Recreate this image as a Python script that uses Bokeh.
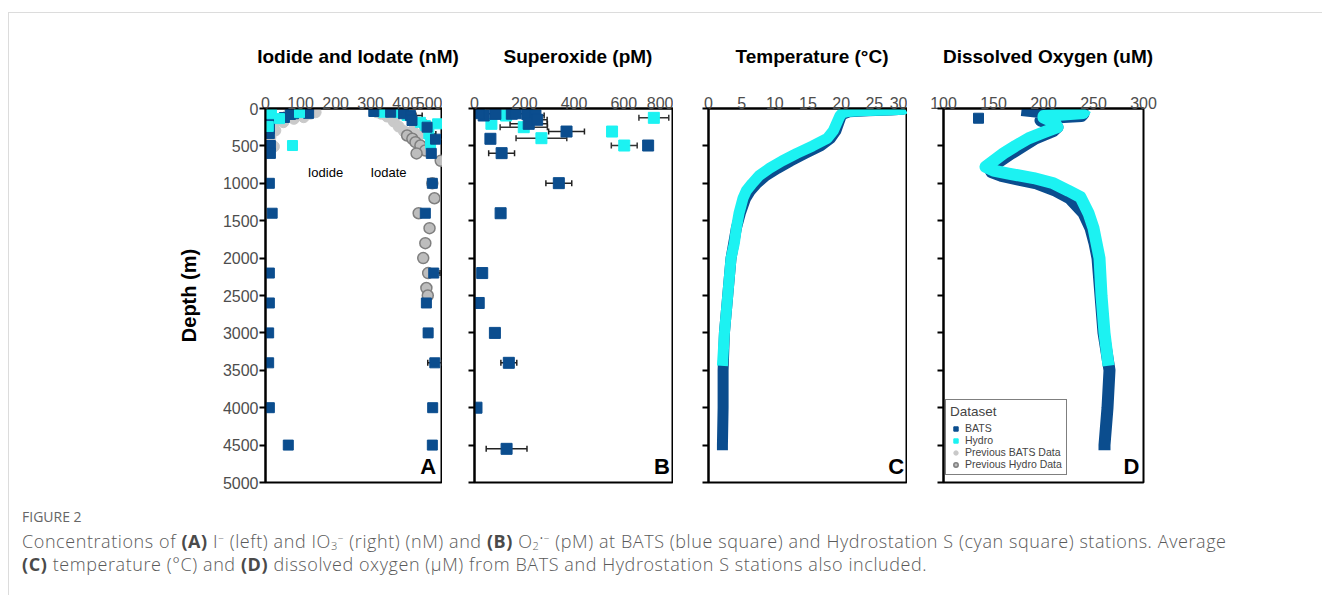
from bokeh.plotting import figure
from bokeh.models import (ColumnDataSource, Whisker, TeeHead, FixedTicker, Label,
                          Legend, LegendItem, Div, Range1d)
from bokeh.layouts import row, column
from bokeh.embed import file_html
from bokeh.resources import INLINE

BATS_C = "#0b4d8e"
HYDRO_C = "#1cf2f2"
PREV_B_FILL = "#c9c9c9"
PREV_H_FILL = "#bdbdbd"
PREV_H_LINE = "#7f7f7f"
FONT = "Liberation Sans"

panel_titles = ["Iodide and Iodate (nM)", "Superoxide (pM)", "Temperature (\u00b0C)", "Dissolved Oxygen (uM)"]

# ---------------- Panel A: iodide / iodate (nM) ----------------
iodide_bats_x = [80, 71, 54, 123, 11, 11, 11, 14, 14, 11, 19, 11, 11, 9, 9, 11, 65]
iodide_bats_depth = [70, 80, 120, 65, 200, 270, 335, 495, 600, 1000, 1400, 2200, 2600, 3000, 3400, 4000, 4500]
iodide_hydro_x = [17, 40, 97, 8, 77]
iodide_hydro_depth = [70, 135, 55, 240, 495]

iodate_bats_x = [309, 357, 394, 414, 418, 461, 485, 473, 476, 456, 480, 459, 464, 483, 477, 476]
iodate_bats_depth = [40, 50, 70, 95, 160, 250, 410, 600, 1000, 1400, 2200, 2600, 3000, 3400, 4000, 4500]
iodate_bats_err = [5, 15, 30, 33, 10, 15, 25, 8, 10, 5, 18, 3, 12, 20, 10, 8]
iodate_hydro_x = [337, 380, 404, 442, 456, 491, 466, 471]
iodate_hydro_depth = [50, 55, 94, 185, 227, 205, 340, 473]
iodate_hydro_err = [15, 20, 25, 15, 15, 0, 20, 10]

prev_bats_x = [24, 28, 14, 24, 43, 62, 90, 143, 128, 109, 81, 51,
               318, 330, 347, 360, 366, 380, 395, 420, 440]
prev_bats_depth = [200, 294, 384, 508, 138, 94, 94, 50, 70, 116, 138, 183,
                   50, 70, 107, 130, 174, 241, 303, 300, 350]
prev_hydro_x = [404, 419, 428, 442, 456, 431, 500, 476, 482, 437, 468, 456, 450, 464, 459, 463]
prev_hydro_depth = [361, 405, 450, 495, 561, 600, 700, 1000, 1200, 1400, 1600, 1800, 2000, 2200, 2400, 2500]

# ---------------- Panel B: superoxide (pM) ----------------
sox_bats_x = [37, 17, 84, 150, 165, 212, 245, 218, 252, 370, 698, 64, 109, 339, 105, 31, 17, 82, 138, 8, 129]
sox_bats_depth = [94, 63, 72, 70, 63, 72, 94, 205, 151, 308, 495, 405, 597, 998, 1400, 2200, 2600, 3000, 3400, 4000, 4550]
sox_bats_err = [0, 0, 10, 100, 0, 0, 35, 75, 40, 72, 15, 8, 52, 52, 10, 8, 8, 8, 32, 3, 82]
sox_hydro_x = [721, 553, 602, 269, 68, 127, 20, 198]
sox_hydro_depth = [125, 308, 495, 397, 205, 94, 50, 250]
sox_hydro_err = [60, 5, 52, 102, 16, 20, 0, 95]

# ---------------- Panel C: temperature (deg C) ----------------
temp_hydro_depth = [0, 10, 20, 30, 40, 60, 100, 200, 300, 400, 500, 600, 700, 800, 900, 1000,
                    1100, 1200, 1400, 1600, 1800, 2000, 2500, 3000, 3440]
temp_hydro = [29.6, 29.4, 27.0, 23.0, 21.0, 20.2, 19.8, 19.3, 18.8, 17.9, 15.7, 13.3, 11.1, 9.2, 7.6, 6.6,
              5.7, 5.2, 4.6, 4.2, 3.9, 3.4, 2.9, 2.4, 2.1]
temp_bats_depth = [0, 10, 20, 30, 45, 70, 100, 200, 300, 400, 500, 600, 700, 800, 900, 1000,
                   1100, 1200, 1400, 1600, 1800, 2000, 2500, 3000, 3500, 4000, 4500, 4570]
temp_bats = [29.5, 29.2, 27.5, 24.0, 21.2, 20.4, 20.0, 19.6, 19.2, 18.4, 16.9, 14.6, 12.4, 10.4, 8.6, 7.3,
             6.3, 5.6, 4.8, 4.2, 3.8, 3.4, 2.9, 2.4, 2.2, 2.2, 2.1, 2.1]

# ---------------- Panel D: dissolved oxygen (uM) ----------------
oxy_hydro_depth = [10, 60, 100, 120, 150, 200, 250, 320, 400, 500, 600, 700, 780, 830, 870, 930, 1000,
                   1100, 1185, 1400, 1600, 1800, 2000, 2500, 3000, 3440]
oxy_hydro = [242, 240, 200, 200, 205, 212, 214, 200, 185, 172, 160, 150, 142, 150, 165, 190, 210,
             225, 237, 245, 250, 253, 256, 258, 261, 265]
oxy_bats_depth = [20, 40, 70, 100, 130, 160, 200, 250, 300, 400, 500, 600, 700, 800, 850, 900, 950, 1000,
                  1100, 1200, 1400, 1600, 1800, 2000, 2500, 3000, 3500, 4000, 4500, 4570]
oxy_bats = [178, 192, 240, 238, 198, 197, 206, 214, 210, 192, 180, 168, 157, 146, 148, 158, 175, 193,
            212, 226, 240, 247, 251, 254, 257, 260, 266, 264, 261, 261]
oxy_bats_pts_x = [135]
oxy_bats_pts_depth = [130]

depth_ticks = list(range(0, 5001, 500))

TITLE_ROW_H = 50


def make_fig(x0, x1, xticks, frame_w, min_left, min_right, show_ylabels):
    p = figure(frame_width=frame_w, frame_height=374,
               x_range=Range1d(x0, x1), y_range=Range1d(5000, 0),
               x_axis_location="above", output_backend="svg", toolbar_location=None,
               title_location=None,
               min_border_left=min_left, min_border_right=min_right,
               min_border_top=35, min_border_bottom=10)
    p.xgrid.visible = False
    p.ygrid.visible = False
    p.outline_line_color = "black"
    p.outline_line_width = 2
    p.outline_line_alpha = 1
    p.background_fill_color = "white"
    p.border_fill_color = "white"

    xa = p.xaxis[0]
    xa.ticker = FixedTicker(ticks=xticks)
    xa.axis_line_color = "black"
    xa.axis_line_width = 2
    xa.major_tick_line_color = None
    xa.minor_tick_line_color = None
    xa.major_tick_out = 0
    xa.major_tick_in = 0
    xa.major_label_standoff = 0
    xa.major_label_text_font = FONT
    xa.major_label_text_font_size = "16px"
    xa.major_label_text_color = "#4d4d4d"

    ya = p.yaxis[0]
    ya.ticker = FixedTicker(ticks=depth_ticks)
    ya.axis_line_color = "black"
    ya.axis_line_width = 2
    ya.major_tick_line_color = "black"
    ya.major_tick_line_width = 2
    ya.major_tick_out = 6
    ya.major_tick_in = 0
    ya.minor_tick_line_color = None
    ya.major_label_standoff = 1
    ya.major_label_text_font = FONT
    if show_ylabels:
        ya.major_label_text_color = "#4d4d4d"
        ya.major_label_text_font_size = "16px"
        ya.axis_label = "Depth (m)"
        ya.axis_label_text_font = FONT
        ya.axis_label_text_font_size = "20px"
        ya.axis_label_text_font_style = "bold"
        ya.axis_label_text_color = "black"
        ya.axis_label_standoff = 20
    else:
        ya.major_label_text_font_size = "1px"
        ya.major_label_text_color = None
    return p


def panel_letter(p, letter, x, y):
    p.add_layout(Label(x=x, y=y, text=letter, text_font=FONT, text_font_size="22px",
                       text_font_style="bold", text_align="right", text_baseline="middle",
                       text_color="black"))


def err_whisker(p, xs, ds, es, color="#1a1a1a"):
    src = ColumnDataSource(dict(y=ds, lo=[a - b for a, b in zip(xs, es)],
                                hi=[a + b for a, b in zip(xs, es)]))
    w = Whisker(source=src, base="y", lower="lo", upper="hi", dimension="width",
                line_color=color, line_width=1.5,
                lower_head=TeeHead(size=6, line_color=color, line_width=1.5),
                upper_head=TeeHead(size=6, line_color=color, line_width=1.5))
    p.add_layout(w)


# ---- Panel A ----
pA = make_fig(0, 505, [0, 100, 200, 300, 400, 500], 177, 256, 0, True)
pA.scatter(prev_bats_x, prev_bats_depth, marker="circle", size=11, fill_color=PREV_B_FILL,
           line_color=PREV_B_FILL)
pA.scatter(prev_hydro_x, prev_hydro_depth, marker="circle", size=11, fill_color=PREV_H_FILL,
           line_color=PREV_H_LINE, line_width=1.5)
pA.scatter(iodide_bats_x, iodide_bats_depth, marker="square", size=10, color=BATS_C)
pA.scatter(iodide_hydro_x, iodide_hydro_depth, marker="square", size=10, color=HYDRO_C)
pA.scatter(iodate_hydro_x, iodate_hydro_depth, marker="square", size=10, color=HYDRO_C)
pA.scatter(iodate_bats_x, iodate_bats_depth, marker="square", size=10, color=BATS_C)
err_whisker(pA, iodate_hydro_x, iodate_hydro_depth, iodate_hydro_err)
err_whisker(pA, iodate_bats_x, iodate_bats_depth, iodate_bats_err)
pA.add_layout(Label(x=171, y=856, text="Iodide", text_font=FONT, text_font_size="13px",
                    text_align="center", text_baseline="middle", text_color="black"))
pA.add_layout(Label(x=351, y=856, text="Iodate", text_font=FONT, text_font_size="13px",
                    text_align="center", text_baseline="middle", text_color="black"))
panel_letter(pA, "A", 487, 4790)

# ---- Panel B ----
pB = make_fig(0, 800, [0, 200, 400, 600, 800], 199, 32, 0, False)
err_whisker(pB, sox_hydro_x, sox_hydro_depth, sox_hydro_err, "#333333")
pB.scatter(sox_hydro_x, sox_hydro_depth, marker="square", size=11, color=HYDRO_C)
pB.scatter(sox_bats_x, sox_bats_depth, marker="square", size=11, color=BATS_C)
err_whisker(pB, sox_bats_x, sox_bats_depth, sox_bats_err, "#222222")
panel_letter(pB, "B", 785, 4790)

# ---- Panel C ----
pC = make_fig(0, 30, [0, 5, 10, 15, 20, 25, 30], 199, 35, 0, False)
pC.line(temp_bats, temp_bats_depth, line_width=11, color=BATS_C, line_join="round")
pC.line(temp_hydro, temp_hydro_depth, line_width=11, color=HYDRO_C, line_join="round")
panel_letter(pC, "C", 29.5, 4790)

# ---- Panel D ----
pD = make_fig(100, 300, [100, 150, 200, 250, 300], 200, 36, 179, False)
pD.line(oxy_bats, oxy_bats_depth, line_width=12, color=BATS_C, line_join="round")
pD.line(oxy_hydro, oxy_hydro_depth, line_width=12, color=HYDRO_C, line_join="round")
pD.scatter(oxy_bats_pts_x, oxy_bats_pts_depth, marker="square", size=10, color=BATS_C)
panel_letter(pD, "D", 296, 4790)

# legend swatches (hidden renderers that only supply the legend glyphs)
lg_h = pD.scatter(sox_hydro_x, sox_hydro_depth, marker="square", size=9, color=HYDRO_C, visible=False)
lg_pb = pD.scatter(prev_bats_x, prev_bats_depth, marker="circle", size=9, fill_color=PREV_B_FILL,
                   line_color=PREV_B_FILL, visible=False)
lg_ph = pD.scatter(prev_hydro_x, prev_hydro_depth, marker="circle", size=9, fill_color=PREV_H_FILL,
                   line_color=PREV_H_LINE, line_width=1.5, visible=False)
lg_b = pD.scatter(oxy_bats_pts_x, oxy_bats_pts_depth, marker="square", size=9, color=BATS_C, visible=False)
legend = Legend(items=[LegendItem(label="BATS", renderers=[lg_b]),
                       LegendItem(label="Hydro", renderers=[lg_h]),
                       LegendItem(label="Previous BATS Data", renderers=[lg_pb]),
                       LegendItem(label="Previous Hydro Data", renderers=[lg_ph])],
                title="Dataset", location=(2, 7))
legend.title_text_font = FONT
legend.title_text_font_size = "13.5px"
legend.title_text_font_style = "normal"
legend.title_standoff = 3
legend.label_text_font = FONT
legend.label_text_font_size = "10.5px"
legend.label_height = 9
legend.glyph_height = 11
legend.glyph_width = 11
legend.label_standoff = 4
legend.spacing = 0
legend.padding = 4
legend.margin = 0
legend.border_line_color = "black"
legend.border_line_width = 1.5
legend.background_fill_alpha = 1
legend.inactive_fill_alpha = 0
pD.add_layout(legend)

# ---- panel titles row (centred over each frame) ----
title_centres = [344, 564, 798, 1034]
title_html = '<div style="position:relative; width:1313px; height:%dpx;">' % TITLE_ROW_H
for t, c in zip(panel_titles, title_centres):
    title_html += ('<div style="position:absolute; left:%dpx; top:28px; width:300px; text-align:center; '
                   'white-space:nowrap; font-family:\'Liberation Sans\', Arial, sans-serif; font-size:19px; '
                   'line-height:22px; font-weight:bold; color:#000;">%s</div>' % (c - 150, t))
title_html += '</div>'
titles = Div(text=title_html, width=1313, height=TITLE_ROW_H)

SUB = '<sub style="font-size:11px;line-height:0;vertical-align:-2px">%s</sub>'
SUP = '<sup style="font-size:10px;line-height:0;vertical-align:6px">%s</sup>'
B = '<b style="font-weight:700;color:#4a4a4a">%s</b>'
caption_html = (
    '<div style="margin-left:8px; padding-top:10px; font-family:\'Open Sans\', sans-serif; color:#5a5a5a;">'
    '<div style="font-size:14px; line-height:20px; color:#666;">FIGURE 2</div>'
    '<div style="font-size:18px; line-height:23px; margin-top:3px; font-weight:300; letter-spacing:0.58px;">'
    'Concentrations of ' + B % '(A)' + ' I' + SUP % '&minus;' + ' (left) and IO' + SUB % '3' + SUP % '&minus;' +
    ' (right) (nM) and ' + B % '(B)' + ' O' + SUB % '2' + SUP % '&bull;&minus;' +
    ' (pM) at BATS (blue square) and Hydrostation S (cyan square) stations. Average<br>' +
    B % '(C)' + ' temperature (\u00b0C) and ' + B % '(D)' +
    ' dissolved oxygen (\u00b5M) from BATS and Hydrostation S stations also included.'
    '</div></div>'
)
caption = Div(text=caption_html, width=1313, height=113)

layout = column(titles, row(pA, pB, pC, pD), caption, margin=(12, 0, 0, 8),
                styles={"border-top": "1px solid #dcdcdc", "border-left": "1px solid #dcdcdc"})

open("out.html", "w").write(file_html(layout, INLINE))
